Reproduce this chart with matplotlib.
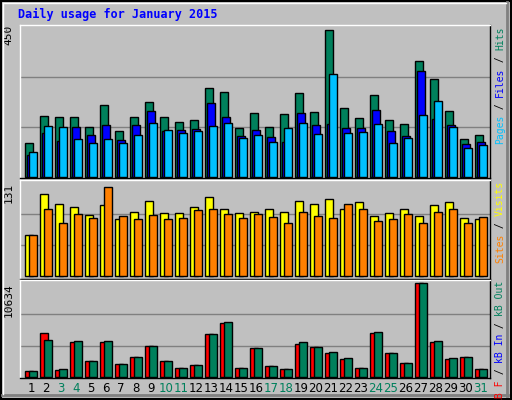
import matplotlib
matplotlib.use("Agg")
import matplotlib.pyplot as plt
import numpy as np

days = list(range(1, 32))
weekend = [3, 4, 10, 11, 17, 18, 24, 25, 31]
hits = [100,181,178,178,148,214,136,178,223,178,163,169,265,253,145,190,148,187,250,193,442,205,175,244,169,157,349,292,196,112,124]
files = [64,130,106,148,124,154,109,154,196,136,139,142,220,178,121,139,118,103,190,154,157,145,145,199,136,121,319,172,154,97,103]
pages = [73,151,148,112,100,112,100,124,160,139,130,136,151,160,115,124,103,145,160,127,310,130,133,157,100,115,184,226,148,85,94]
visits = [58,116,101,98,86,100,80,91,106,89,89,98,112,94,89,91,94,91,106,101,109,94,104,84,89,94,84,100,105,82,80]
sites = [58,95,75,87,82,126,84,80,86,80,82,93,94,87,82,87,83,75,91,84,82,101,95,78,80,87,75,91,95,75,83]
kbf = [655,4928,770,3889,1810,3889,1463,2272,3542,1810,1001,1348,4813,6083,1001,3311,1232,886,3773,3427,2734,2041,1001,4928,2734,1579,10634,3889,2041,2272,886]
kbout = [655,4120,886,4004,1810,4004,1463,2272,3542,1810,1001,1348,4813,6199,1001,3311,1232,886,3889,3427,2849,2156,1001,5044,2734,1579,10634,4004,2156,2272,886]
max_hits, max_visits, max_kb = 450, 131, 10634

W, H = 512, 400
fig = plt.figure(figsize=(W/100, H/100), dpi=100, facecolor="#C0C0C0")
mono = "DejaVu Sans Mono"
RFS = 7.0
CH = 0.602 * RFS * 100 / 72

def px_axes(x0, y0, x1, y1):
    ax = fig.add_axes([x0/W, 1 - y1/H, (x1-x0)/W, (y1-y0)/H])
    ax.set_facecolor("#C0C0C0")
    ax.set_xlim(0, x1-x0)
    for s in ax.spines.values():
        s.set_color("black"); s.set_linewidth(1)
    ax.spines["top"].set_color("white"); ax.spines["left"].set_color("white")
    ax.set_xticks([]); ax.set_yticks([])
    return ax

def right_label(ytop, parts):
    ypix = ytop
    for t, c in parts:
        h = len(t) * CH
        fig.text(500/W, 1 - (ypix + h)/H, t, rotation=90, ha="center", va="bottom",
                 fontsize=RFS, family=mono, color=c)
        ypix += h

d = np.array(days)
xpos = 5 + 15*(d-1)
bw = 7.7

# panel 1
ax1 = px_axes(20, 25, 490, 178)
for g in [150, 300]:
    ax1.axhline(g, color="#808080", lw=1, zorder=1)
for s, o, c in zip([hits, files, pages], [0, 2, 4], ["#00805C", "#0000FF", "#00C0FF"]):
    ax1.bar(xpos + o, s, width=bw, align="edge", color=c, edgecolor="black", linewidth=1, zorder=3)
ax1.set_ylim(-1.5*3, 450*152/150)
ax1.text(-0.025, 1.0, str(max_hits), transform=ax1.transAxes, rotation=90, ha="center", va="top", fontsize=8, family=mono)
right_label(27, [("Hits", "#00805C"), (" / ", "black"), ("Files", "#0000FF"), (" / ", "black"), ("Pages", "#00C0FF")])

# panel 2
ax2 = px_axes(20, 180, 490, 279)
for g in [max_visits/3, 2*max_visits/3]:
    ax2.axhline(g, color="#808080", lw=1, zorder=1)
for s, o, c in zip([visits, sites], [0, 4], ["#FFFF00", "#FF8000"]):
    ax2.bar(xpos + o, s, width=bw, align="edge", color=c, edgecolor="black", linewidth=1, zorder=3)
ax2.set_ylim(-4.5, 131*1.035)
ax2.text(-0.025, 0.97, str(max_visits), transform=ax2.transAxes, rotation=90, ha="center", va="top", fontsize=8, family=mono)
right_label(181, [("Visits", "#FFFF00"), (" / ", "black"), ("Sites", "#FF8000")])

# panel 3
ax3 = px_axes(20, 280, 490, 378)
for g in [max_kb/3, 2*max_kb/3]:
    ax3.axhline(g, color="#808080", lw=1, zorder=1)
for s, o, c in zip([kbf, kbout], [0, 4], ["#FF0000", "#00805C"]):
    ax3.bar(xpos + o, s, width=bw, align="edge", color=c, edgecolor="black", linewidth=1, zorder=3)
ax3.set_ylim(-4*38.5, max_kb*1.035)
ax3.text(-0.025, 0.97, str(max_kb), transform=ax3.transAxes, rotation=90, ha="center", va="top", fontsize=8, family=mono)
right_label(281, [("kB Out", "#00805C"), (" / ", "black"), ("kB In", "#0000FF"), (" / ", "black"), ("kB F", "#FF0000")])

for day, x in zip(days, xpos):
    fig.text((20 + x + 6)/W, 1 - 388/H, str(day), ha="center", va="center", fontsize=8.5,
             family="DejaVu Sans", color="#00805C" if day in weekend else "black")

fig.text(18/W, 1 - 14/H, "Daily usage for January 2015", ha="left", va="center", fontsize=8.5,
         family=mono, weight="bold", color="#0000FF")

fr = fig.add_axes([0, 0, 1, 1], facecolor="none")
fr.set_xlim(0, W); fr.set_ylim(H, 0); fr.axis("off")
fr.add_patch(plt.Rectangle((1, 1), W-2, H-2, fill=False, edgecolor="black", lw=1.5))
fr.plot([2, W-4], [H-5, H-5], color="#808080", lw=2)
fr.plot([W-5, W-5], [2, H-4], color="#808080", lw=2)
fr.plot([3, W-6], [3, 3], color="white", lw=1)
fr.plot([3, 3], [3, H-6], color="white", lw=1)

fig.savefig("out.png", dpi=100, facecolor=fig.get_facecolor())
